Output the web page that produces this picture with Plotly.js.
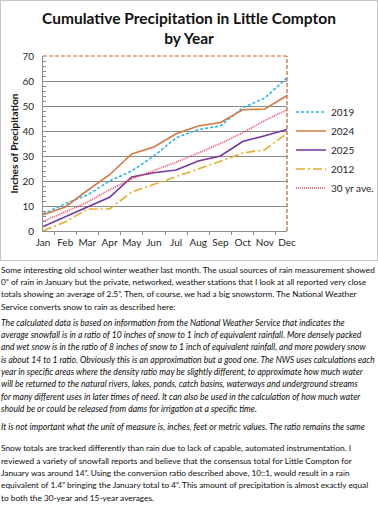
<!DOCTYPE html>
<html>
<head>
<meta charset="utf-8">
<script src="https://cdn.plot.ly/plotly-3.0.1.min.js"></script>
<style>
  html, body { margin:0; padding:0; background:#fff; }
  body { width:378px; height:523px; position:relative; overflow:hidden; }
  #chart { position:absolute; left:0; top:0; width:378px; height:262px; }
  #frame { position:absolute; left:0; top:0; width:376px; height:259px; border:1px solid #c6c6c6; pointer-events:none; }
  #text { position:absolute; left:1px; top:263.5px; width:377px; font-family:Lato, "Open Sans", sans-serif; color:#0d0d0d; line-height:12.35px; }
  #text .p2 { margin-top:3.8px; }
  #text .p3 { margin-top:6px; }
  #text .p4 { margin-top:8.4px; }
  #text .l { white-space:nowrap; }
  #text .l span { white-space:nowrap; }
  #text .i { font-style:italic; }
</style>
</head>
<body>
<div id="chart"></div>
<div id="frame"></div>
<div id="text">
  <div class="p r p1">
    <div class="l">Some interesting old school winter weather last month. The usual sources of rain measurement showed</div>
    <div class="l">0” of rain in January but the private, networked, weather stations that I look at all reported very close</div>
    <div class="l">totals showing an average of 2.5”. Then, of course, we had a big snowstorm. The National Weather</div>
    <div class="l">Service converts snow to rain as described here:</div>
  </div>
  <div class="p i p2">
    <div class="l">The calculated data is based on information from the National Weather Service that indicates the</div>
    <div class="l">average snowfall is in a ratio of 10 inches of snow to 1 inch of equivalent rainfall. More densely packed</div>
    <div class="l">and wet snow is in the ratio of 8 inches of snow to 1 inch of equivalent rainfall, and more powdery snow</div>
    <div class="l">is about 14 to 1 ratio. Obviously this is an approximation but a good one. The NWS uses calculations each</div>
    <div class="l">year in specific areas where the density ratio may be slightly different, to approximate how much water</div>
    <div class="l">will be returned to the natural rivers, lakes, ponds, catch basins, waterways and underground streams</div>
    <div class="l">for many different uses in later times of need. It can also be used in the calculation of how much water</div>
    <div class="l">should be or could be released from dams for irrigation at a specific time.</div>
  </div>
  <div class="p i p3">
    <div class="l">It is not important what the unit of measure is, inches, feet or metric values. The ratio remains the same</div>
  </div>
  <div class="p r p4">
    <div class="l">Snow totals are tracked differently than rain due to lack of capable, automated instrumentation. I</div>
    <div class="l">reviewed a variety of snowfall reports and believe that the consensus total for Little Compton for</div>
    <div class="l">January was around 14”. Using the conversion ratio described above, 10::1, would result in a rain</div>
    <div class="l">equivalent of 1.4” bringing the January total to 4”. This amount of precipitation is almost exactly equal</div>
    <div class="l">to both the 30-year and 15-year averages.</div>
  </div>
</div>
<script>
// ---- data ----
const months = ["Jan","Feb","Mar","Apr","May","Jun","Jul","Aug","Sep","Oct","Nov","Dec"];
const monthIndex = [0,1,2,3,4,5,6,7,8,9,10,11];
const y2019 = [6.8, 10.9, 14.4, 20.0, 24.0, 30.0, 37.3, 40.6, 42.0, 49.3, 53.2, 61.3];
const y2024 = [6.5, 9.6, 16.2, 22.5, 30.8, 33.6, 38.9, 42.0, 43.4, 48.5, 48.8, 54.2];
const y2025 = [1.8, 5.7, 9.5, 13.5, 21.6, 23.3, 24.4, 28.0, 30.0, 35.8, 38.1, 40.6];
const y2012 = [0.0, 3.6, 8.8, 8.8, 15.6, 18.6, 21.5, 24.8, 27.9, 31.2, 32.5, 39.1];
const yAve30 = [3.8, 7.5, 11.5, 16.5, 20.8, 24.2, 27.5, 31.2, 35.0, 39.3, 44.2, 48.5];
const seriesNames = ["2019","2024","2025","2012","30 yr ave."];
const yTicks = [0,10,20,30,40,50,60,70];

const FONT = 'Lato, "Open Sans", sans-serif';
const traces = [
  {name:seriesNames[0], y:y2019, line:{color:'#2db5ea', width:1.6, dash:'3px,2px'}},
  {name:seriesNames[1], y:y2024, line:{color:'#d2793f', width:1.6}},
  {name:seriesNames[2], y:y2025, line:{color:'#7434a2', width:1.6}},
  {name:seriesNames[3], y:y2012, line:{color:'#eaaa2a', width:1.6, dash:'9px,3px,2px,3px'}},
  {name:seriesNames[4], y:yAve30, line:{color:'#f5445f', width:1.6, dash:'1px,1px'}}
].map(t => Object.assign({x:monthIndex, type:'scatter', mode:'lines', hoverinfo:'skip'}, t));

const layout = {
  width:378, height:262,
  margin:{l:43.3, r:90.7, t:56.3, b:31, pad:0},
  paper_bgcolor:'rgba(0,0,0,0)', plot_bgcolor:'#fff',
  font:{family:FONT, size:10, color:'#262626'},
  title:{text:'Cumulative Precipitation in Little Compton<br>by Year', font:{family:FONT, size:15.5, color:'#111', weight:'bold'},
         xref:'container', x:0.5, xanchor:'center', yref:'container', y:1-24/262, yanchor:'top'},
  xaxis:{range:[0,11], tickvals:monthIndex, ticktext:months, ticks:'', showgrid:false, zeroline:false,
         showline:true, linecolor:'#8c8c8c', linewidth:1, tickfont:{size:10, color:'#262626'}, ticklabelstandoff:2,
         minor:{ticks:'outside', tick0:0.5, dtick:1, ticklen:3, tickcolor:'#8c8c8c', showgrid:false}},
  yaxis:{range:[0,70], tickvals:yTicks, ticks:'inside', ticklen:3, tickcolor:'#8c8c8c', showgrid:true, gridcolor:'#8a8a8a', gridwidth:1,
         zeroline:false, showline:true, linecolor:'#8c8c8c', linewidth:1, tickfont:{size:10, color:'#262626'}, ticklabelstandoff:6,
         minor:{ticks:'inside', dtick:2, ticklen:3, tickcolor:'#8c8c8c', showgrid:false},
         title:{text:'Inches of Precipitation', font:{family:FONT, size:10, color:'#111', weight:'bold'}, standoff:1}},
  legend:{xref:'container', x:291/378, xanchor:'left', yref:'container', y:1-150/262, yanchor:'middle',
          font:{family:FONT, size:10, color:'#262626'}, bgcolor:'rgba(0,0,0,0)', borderwidth:0, itemwidth:30, tracegroupgap:0},
  showlegend:true,
  shapes:[
    {type:'line', xref:'paper', yref:'paper', x0:0, x1:1, y0:1, y1:1, line:{color:'#c0622a', width:1.2, dash:'4px,2px'}},
    {type:'line', xref:'paper', yref:'paper', x0:1, x1:1, y0:0, y1:1, line:{color:'#c0622a', width:1.2, dash:'4px,2px'}}
  ]
};

Plotly.newPlot('chart', traces, layout, {staticPlot:true, displayModeBar:false});

// fit paragraph text size so the widest line spans the text width
function fit(selector, target) {
  const blocks = document.querySelectorAll(selector);
  const spans = [];
  blocks.forEach(b => {
    b.style.fontSize = '10px';
    b.querySelectorAll('.l').forEach(l => {
      const s = document.createElement('span');
      s.textContent = l.textContent;
      l.textContent = '';
      l.appendChild(s);
      spans.push(s);
    });
  });
  let maxW = 0;
  spans.forEach(s => { maxW = Math.max(maxW, s.getBoundingClientRect().width); });
  const size = 10 * target / maxW;
  blocks.forEach(b => b.style.fontSize = size.toFixed(2) + 'px');
}
fit('#text .r', 374);
fit('#text .i', 374);
</script>
</body>
</html>
